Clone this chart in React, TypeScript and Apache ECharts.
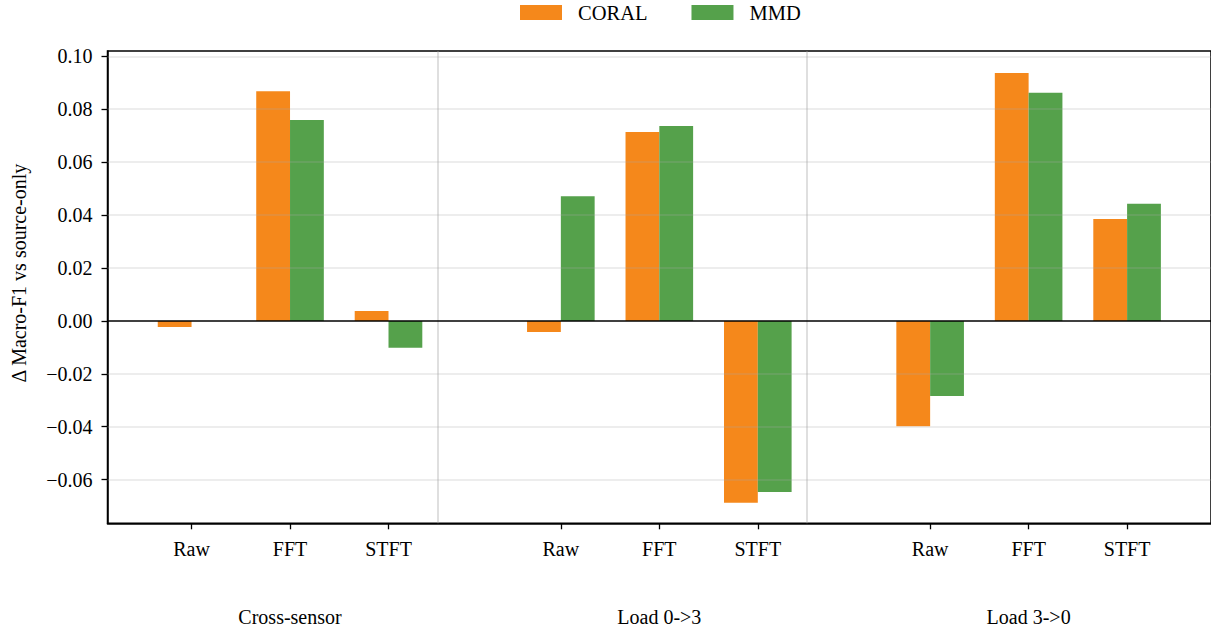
import React, { useEffect, useRef } from "react";
import * as echarts from "echarts";

// ---- data ----
const groups = ["Cross-sensor", "Load 0->3", "Load 3->0"];
const features = ["Raw", "FFT", "STFT"];
const coral = [-0.0023, 0.0868, 0.0037, -0.0042, 0.0714, -0.0687, -0.0398, 0.0937, 0.0385];
const mmd = [0.0, 0.0759, -0.0102, 0.0471, 0.0737, -0.0647, -0.0284, 0.0862, 0.0443];
const yTicks = [-0.06, -0.04, -0.02, 0.0, 0.02, 0.04, 0.06, 0.08, 0.1];

// ---- layout ----
const STRIDE = 3.75;
const FONT = "'Liberation Serif', 'Times New Roman', serif";
const ORANGE = "#F5881B";
const GREEN = "#55A14B";

const positions: number[] = [];
const posLabels: string[] = [];
groups.forEach((_, g) =>
  features.forEach((f, i) => {
    positions.push(g * STRIDE + i);
    posLabels.push(f);
  })
);
const groupCenters = groups.map((_, g) => g * STRIDE + 1);
const separators = groups.slice(0, -1).map((_, g) => g * STRIDE + 2.5);

const nearest = (arr: number[], v: number) => {
  let best = 0;
  arr.forEach((p, i) => {
    if (Math.abs(p - v) < Math.abs(arr[best] - v)) best = i;
  });
  return best;
};

const fmtY = (v: number) => {
  const s = Math.abs(v).toFixed(2);
  return v < -1e-9 ? "\u2212" + s : s;
};

export default function App() {
  const ref = useRef<HTMLDivElement>(null);
  useEffect(() => {
    if (!ref.current) return;
    const chart = echarts.init(ref.current, null, { renderer: "svg" });
    const xMin = -0.8535;
    const xMax = 10.352;
    const markData: any[] = [];
    yTicks.forEach((v) => {
      if (Math.abs(v) < 1e-9) return;
      markData.push({ yAxis: v, lineStyle: { color: "rgba(170,170,170,0.28)", width: 1.5, type: "solid" } });
    });
    separators.forEach((s) =>
      markData.push({ xAxis: s, lineStyle: { color: "rgba(160,160,160,0.45)", width: 1.5, type: "solid" } })
    );
    markData.push({ yAxis: 0, lineStyle: { color: "#000", width: 1.5, type: "solid" } });

    chart.setOption({
      animation: false,
      textStyle: { fontFamily: FONT, color: "#000" },
      legend: {
        left: 520,
        top: 2,
        padding: 0,
        icon: "rect",
        itemWidth: 42,
        itemHeight: 15,
        itemGap: 44,
        textStyle: { fontFamily: FONT, fontSize: 20.5, color: "#000", padding: [0, 0, 0, 11] },
        data: ["CORAL", "MMD"],
      },
      grid: {
        left: 107.5,
        top: 51,
        right: -2,
        bottom: 108.7,
        show: true,
        borderColor: "#000",
        borderWidth: 1.5,
        backgroundColor: "transparent",
      },
      xAxis: [
        {
          type: "value",
          min: xMin,
          max: xMax,
          position: "bottom",
          axisLine: { show: true, onZero: false, lineStyle: { color: "#000", width: 1.5 } },
          axisTick: { show: true, customValues: positions, length: 6, lineStyle: { color: "#000", width: 1.3 } },
          axisLabel: {
            customValues: positions,
            formatter: (v: number) => posLabels[nearest(positions, v)],
            fontFamily: FONT,
            fontSize: 20,
            color: "#000",
            margin: 16,
          },
          splitLine: { show: false },
        },
        {
          type: "value",
          min: xMin,
          max: xMax,
          position: "bottom",
          offset: 68,
          axisLine: { show: false, onZero: false },
          axisTick: { show: false },
          axisLabel: {
            customValues: groupCenters,
            formatter: (v: number) => groups[nearest(groupCenters, v)],
            fontFamily: FONT,
            fontSize: 20,
            color: "#000",
            margin: 16,
          },
          splitLine: { show: false },
        },
      ],
      yAxis: {
        type: "value",
        min: -0.0765,
        max: 0.102,
        name: "\u0394 Macro-F1 vs source-only",
        nameLocation: "middle",
        nameGap: 79,
        nameTextStyle: { fontFamily: FONT, fontSize: 20, color: "#000", padding: [0, 0, 0, 28] },
        axisLine: { show: true, onZero: false, lineStyle: { color: "#000", width: 1.5 } },
        axisTick: { show: true, customValues: yTicks, length: 6, lineStyle: { color: "#000", width: 1.3 } },
        axisLabel: {
          customValues: yTicks,
          formatter: fmtY,
          fontFamily: FONT,
          fontSize: 20,
          color: "#000",
          margin: 15,
        },
        splitLine: { show: false },
      },
      series: [
        {
          name: "CORAL",
          type: "bar",
          xAxisIndex: 0,
          barWidth: 33.8,
          barGap: "0%",
          itemStyle: { color: ORANGE },
          data: coral.map((v, i) => [positions[i], v]),
        },
        {
          name: "MMD",
          type: "bar",
          xAxisIndex: 0,
          barWidth: 33.8,
          barGap: "0%",
          itemStyle: { color: GREEN },
          data: mmd.map((v, i) => [positions[i], v]),
        },
        {
          name: "guides",
          type: "line",
          xAxisIndex: 0,
          data: [],
          z: 5,
          markLine: {
            silent: true,
            symbol: ["none", "none"],
            label: { show: false },
            emphasis: { disabled: true },
            data: markData,
          },
        },
      ],
    });
    return () => chart.dispose();
  }, []);
  return (
    <div
      ref={ref}
      style={{ position: "absolute", left: 0, top: 0, width: 1211, height: 632 }}
    />
  );
}
